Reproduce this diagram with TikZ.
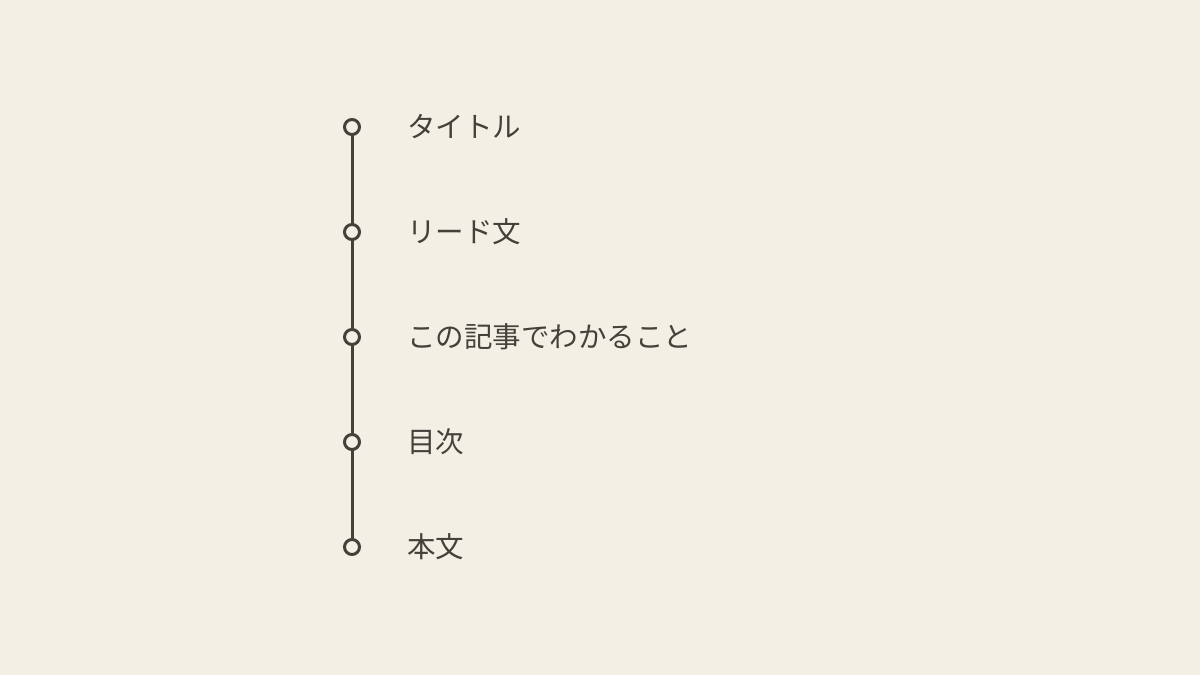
\documentclass[tikz,border=0pt]{standalone}
\usepackage{fontspec}
\setmainfont{Noto Sans CJK JP}
\definecolor{paper}{HTML}{F3EFE5}
\definecolor{ink}{HTML}{45413A}
\begin{document}
\begin{tikzpicture}[
  x = 1pt, y = 1pt,
  dot/.style = {circle, draw = ink, fill = paper, line width = 3pt, minimum size = 15pt, inner sep = 0pt},
  label/.style = {anchor = west, inner sep = 0pt, text = ink, font = \fontsize{28.5}{32}\selectfont}
]
\fill[paper] (0, 0) rectangle (1200, 675);
\useasboundingbox (0, 0) rectangle (1200, 675);
\foreach \n/\t in {1/タイトル, 2/リード文, 3/この記事でわかること, 4/目次, 5/本文}{
  \coordinate (c\n) at (352, 653 - 105*\n);
  \node[label] (t\n) at (407, 653 - 105*\n) {\t};
}
\draw[ink, line width = 3pt] (c1) -- (c5); % spine
\foreach \n in {1, ..., 5}
  \node[dot] (d\n) at (c\n) {};
\end{tikzpicture}
\end{document}
